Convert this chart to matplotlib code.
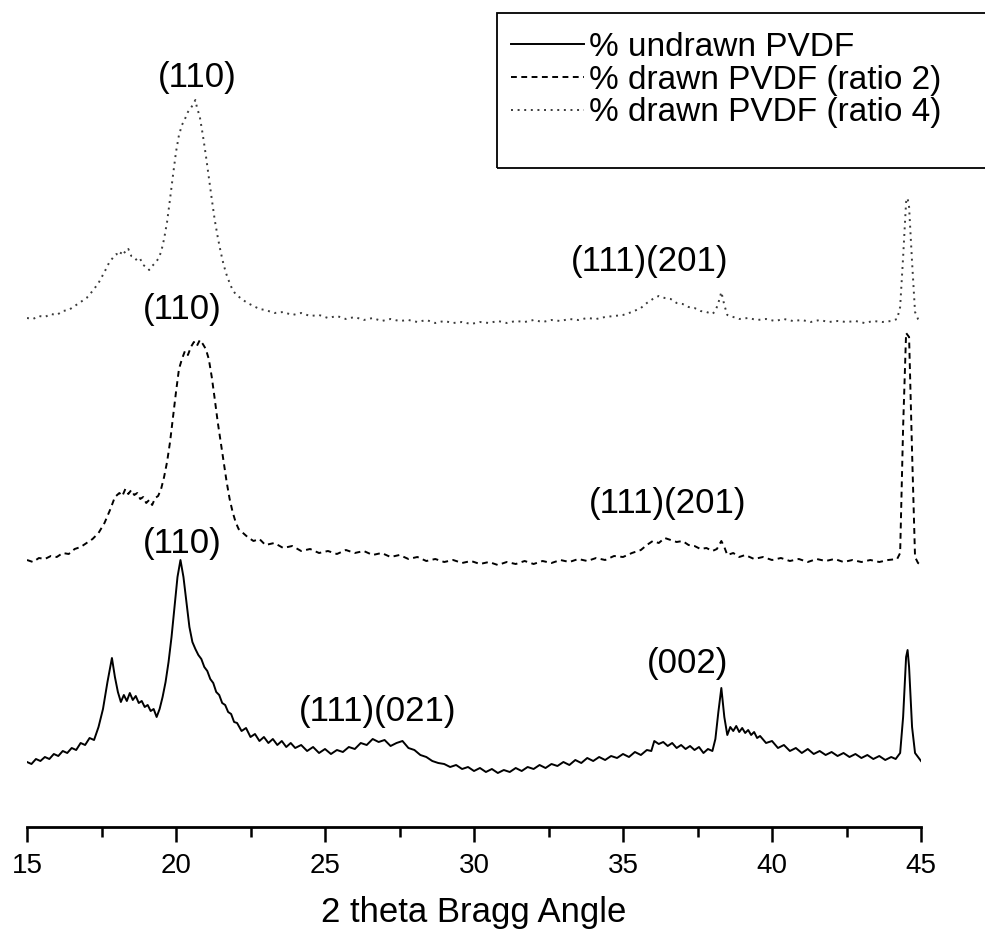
import matplotlib.pyplot as plt
from matplotlib.patches import Rectangle
from matplotlib.ticker import MultipleLocator

plt.rcParams["font.family"] = ["Liberation Sans", "DejaVu Sans"]

# (2 theta [deg], intensity [a.u.]), one trace per sample
undrawn = [
    (15.0, 65), (15.15, 63), (15.3, 68), (15.45, 66), (15.6, 70), (15.75, 68), (15.9, 73),
    (16.05, 71), (16.2, 76), (16.35, 74), (16.5, 79), (16.65, 77), (16.8, 84), (16.95, 82),
    (17.1, 89), (17.25, 87), (17.4, 100), (17.55, 118), (17.7, 145), (17.85, 169), (17.95, 150),
    (18.05, 135), (18.15, 125), (18.25, 132), (18.35, 126), (18.45, 134), (18.55, 127),
    (18.65, 131), (18.75, 124), (18.85, 126), (18.95, 120), (19.05, 122), (19.15, 116),
    (19.25, 118), (19.35, 110), (19.45, 118), (19.55, 130), (19.65, 145), (19.75, 165),
    (19.85, 190), (19.95, 220), (20.05, 250), (20.15, 267), (20.25, 250), (20.35, 225),
    (20.45, 200), (20.55, 185), (20.65, 178), (20.75, 172), (20.85, 168), (20.95, 160),
    (21.05, 156), (21.15, 148), (21.25, 144), (21.35, 135), (21.45, 132), (21.55, 124),
    (21.65, 122), (21.75, 115), (21.85, 113), (21.95, 105), (22.05, 104), (22.2, 96),
    (22.35, 99), (22.5, 90), (22.65, 93), (22.8, 86), (22.95, 90), (23.1, 84), (23.25, 88),
    (23.4, 82), (23.55, 86), (23.7, 80), (23.85, 84), (24.0, 79), (24.2, 82), (24.4, 76),
    (24.6, 80), (24.8, 74), (25.0, 78), (25.2, 73), (25.4, 77), (25.6, 75), (25.8, 80),
    (26.0, 78), (26.2, 84), (26.4, 82), (26.6, 88), (26.8, 85), (27.0, 87), (27.2, 81),
    (27.4, 84), (27.6, 86), (27.8, 79), (28.0, 77), (28.2, 72), (28.4, 70), (28.6, 66),
    (28.8, 64), (29.0, 63), (29.2, 60), (29.4, 62), (29.6, 58), (29.8, 60), (30.0, 56),
    (30.2, 59), (30.4, 55), (30.6, 58), (30.8, 54), (31.0, 57), (31.2, 55), (31.4, 59),
    (31.6, 56), (31.8, 60), (32.0, 58), (32.2, 62), (32.4, 59), (32.6, 63), (32.8, 61),
    (33.0, 65), (33.2, 62), (33.4, 67), (33.6, 64), (33.8, 69), (34.0, 66), (34.2, 70),
    (34.4, 67), (34.6, 71), (34.8, 69), (35.0, 73), (35.2, 70), (35.4, 75), (35.6, 72),
    (35.8, 77), (35.95, 76), (36.05, 86), (36.2, 83), (36.35, 85), (36.5, 81), (36.65, 84),
    (36.8, 79), (36.95, 82), (37.1, 78), (37.25, 81), (37.4, 77), (37.55, 80), (37.7, 74),
    (37.85, 78), (38.0, 76), (38.1, 88), (38.2, 115), (38.3, 139), (38.4, 110), (38.5, 92),
    (38.6, 100), (38.7, 96), (38.8, 101), (38.9, 95), (39.0, 99), (39.1, 94), (39.2, 97),
    (39.3, 92), (39.4, 95), (39.5, 89), (39.6, 91), (39.8, 84), (40.0, 86), (40.2, 79),
    (40.4, 82), (40.6, 76), (40.8, 79), (41.0, 74), (41.2, 78), (41.4, 73), (41.6, 76),
    (41.8, 72), (42.0, 75), (42.2, 71), (42.4, 74), (42.6, 70), (42.8, 73), (43.0, 69),
    (43.2, 72), (43.4, 68), (43.6, 71), (43.8, 67), (44.0, 70), (44.15, 68), (44.3, 74),
    (44.4, 110), (44.5, 170), (44.55, 177), (44.6, 160), (44.7, 100), (44.8, 74), (44.9, 70),
    (45.0, 66),
]

drawn_ratio2 = [
    (15.0, 67), (15.2, 65), (15.4, 69), (15.6, 68), (15.8, 71), (16.0, 70), (16.2, 74),
    (16.4, 73), (16.6, 78), (16.8, 80), (17.0, 84), (17.2, 88), (17.4, 94), (17.6, 104),
    (17.8, 118), (17.95, 130), (18.1, 134), (18.2, 131), (18.3, 138), (18.4, 133), (18.5, 137),
    (18.6, 132), (18.7, 134), (18.8, 128), (18.9, 130), (19.0, 124), (19.1, 127), (19.2, 122),
    (19.3, 129), (19.4, 131), (19.5, 138), (19.6, 150), (19.7, 165), (19.8, 185), (19.9, 210),
    (20.0, 235), (20.1, 258), (20.2, 268), (20.3, 276), (20.4, 272), (20.5, 280), (20.6, 285),
    (20.7, 281), (20.8, 287), (20.9, 283), (21.0, 278), (21.1, 268), (21.2, 250), (21.3, 228),
    (21.4, 205), (21.5, 185), (21.6, 165), (21.7, 145), (21.8, 128), (21.9, 115), (22.0, 105),
    (22.1, 98), (22.25, 94), (22.4, 90), (22.6, 86), (22.8, 88), (23.0, 82), (23.3, 84),
    (23.6, 79), (23.9, 81), (24.2, 76), (24.5, 78), (24.8, 74), (25.1, 76), (25.4, 73),
    (25.7, 77), (26.0, 74), (26.3, 76), (26.6, 72), (26.9, 74), (27.2, 70), (27.5, 72),
    (27.8, 68), (28.1, 70), (28.4, 66), (28.7, 68), (29.0, 65), (29.3, 67), (29.6, 64),
    (29.9, 66), (30.2, 63), (30.5, 65), (30.8, 62), (31.1, 65), (31.4, 63), (31.7, 66),
    (32.0, 63), (32.3, 66), (32.6, 64), (32.9, 67), (33.2, 65), (33.5, 68), (33.8, 66),
    (34.1, 69), (34.4, 67), (34.7, 71), (35.0, 70), (35.3, 74), (35.6, 77), (35.8, 82),
    (36.0, 86), (36.2, 84), (36.4, 89), (36.6, 87), (36.8, 85), (37.0, 86), (37.2, 82),
    (37.4, 81), (37.6, 78), (37.8, 79), (38.0, 76), (38.15, 78), (38.3, 86), (38.4, 80),
    (38.5, 72), (38.7, 74), (38.9, 70), (39.1, 72), (39.4, 68), (39.7, 70), (40.0, 67),
    (40.3, 69), (40.6, 66), (40.9, 68), (41.2, 65), (41.5, 68), (41.8, 66), (42.1, 68),
    (42.4, 65), (42.7, 67), (43.0, 65), (43.3, 67), (43.6, 65), (43.9, 67), (44.2, 68),
    (44.3, 74), (44.4, 200), (44.5, 294), (44.6, 290), (44.7, 175), (44.8, 70), (44.9, 64),
    (45.0, 62),
]

drawn_ratio4 = [
    (15.0, 69), (15.2, 68), (15.4, 71), (15.6, 70), (15.8, 73), (16.0, 72), (16.2, 76),
    (16.4, 77), (16.6, 81), (16.8, 85), (17.0, 89), (17.2, 96), (17.4, 104), (17.6, 115),
    (17.75, 124), (17.9, 130), (18.0, 133), (18.1, 131), (18.2, 137), (18.3, 134), (18.4, 138),
    (18.5, 131), (18.6, 130), (18.7, 126), (18.8, 128), (18.9, 122), (19.0, 120), (19.1, 117),
    (19.2, 121), (19.3, 124), (19.4, 128), (19.5, 135), (19.6, 148), (19.7, 165), (19.8, 188),
    (19.9, 212), (20.0, 235), (20.1, 252), (20.2, 262), (20.3, 268), (20.4, 275), (20.5, 279),
    (20.6, 284), (20.65, 287), (20.7, 280), (20.8, 270), (20.9, 252), (21.0, 232), (21.1, 210),
    (21.2, 188), (21.3, 167), (21.4, 150), (21.5, 135), (21.6, 122), (21.7, 112), (21.8, 104),
    (21.9, 97), (22.0, 93), (22.2, 88), (22.4, 84), (22.6, 81), (22.8, 78), (23.0, 77),
    (23.3, 74), (23.6, 75), (23.9, 72), (24.2, 74), (24.5, 71), (24.8, 72), (25.1, 69),
    (25.4, 71), (25.7, 68), (26.0, 70), (26.3, 67), (26.6, 69), (26.9, 66), (27.2, 68),
    (27.5, 66), (27.8, 67), (28.1, 65), (28.4, 67), (28.7, 64), (29.0, 66), (29.3, 64),
    (29.6, 65), (29.9, 63), (30.2, 65), (30.5, 64), (30.8, 66), (31.1, 64), (31.4, 66),
    (31.7, 65), (32.0, 67), (32.3, 65), (32.6, 67), (32.9, 66), (33.2, 68), (33.5, 67),
    (33.8, 69), (34.1, 68), (34.4, 70), (34.7, 71), (35.0, 72), (35.3, 75), (35.6, 79),
    (35.8, 84), (36.0, 88), (36.2, 91), (36.4, 89), (36.6, 88), (36.8, 84), (37.0, 83),
    (37.2, 80), (37.4, 79), (37.6, 76), (37.8, 75), (38.0, 73), (38.1, 76), (38.2, 84),
    (38.3, 95), (38.4, 82), (38.5, 72), (38.7, 70), (38.9, 68), (39.2, 69), (39.5, 67),
    (39.8, 68), (40.1, 66), (40.4, 68), (40.7, 66), (41.0, 67), (41.3, 65), (41.6, 67),
    (41.9, 65), (42.2, 66), (42.5, 65), (42.8, 66), (43.1, 64), (43.4, 66), (43.7, 65),
    (44.0, 66), (44.2, 68), (44.3, 80), (44.4, 130), (44.5, 185), (44.55, 189), (44.6, 180),
    (44.7, 125), (44.8, 75), (44.9, 68), (45.0, 65),
]

# vertical stacking of the traces
offset_undrawn = 0
offset_ratio2 = 200
offset_ratio4 = 440

series_labels = ["% undrawn PVDF", "% drawn PVDF (ratio 2)", "% drawn PVDF (ratio 4)"]

peak_labels = ["(110)", "(110)", "(110)", "(111)(201)", "(111)(201)", "(111)(021)", "(002)"]
peak_label_x = [20.7, 20.2, 20.2, 35.9, 36.5, 26.75, 37.15]
peak_label_y = [749, 517, 284, 565, 323, 115, 163]

fig = plt.figure(figsize=(9.85, 9.35), dpi=100)
ax = fig.add_axes([27 / 985, 108 / 935, 894 / 985, 827 / 935])

traces = [
    (undrawn, offset_undrawn, "black", "-"),
    (drawn_ratio2, offset_ratio2, "black", (0, (3, 2.3))),
    (drawn_ratio4, offset_ratio4, "#3a3a3a", (0, (1, 2.4))),
]
for (pts, off, col, ls), lab in zip(traces, series_labels):
    tt, ii = zip(*pts)
    ax.plot(tt, [v + off for v in ii], color=col, lw=1.4, ls=ls, label=lab)

for txt, px, py in zip(peak_labels, peak_label_x, peak_label_y):
    ax.text(px, py, txt, ha="center", va="center", fontsize=25)

ax.set_xlim(15, 45)
ax.set_ylim(0, 827)
ax.xaxis.set_major_locator(MultipleLocator(5))
ax.xaxis.set_minor_locator(MultipleLocator(2.5))
ax.tick_params(axis="x", which="major", direction="out", length=11, width=1.8,
               labelsize=20, pad=8)
ax.tick_params(axis="x", which="minor", direction="out", length=7, width=1.8)
ax.set_yticks([])
for side in ["left", "right", "top"]:
    ax.spines[side].set_visible(False)
ax.spines["bottom"].set_linewidth(2)
ax.set_xlabel("2 theta Bragg Angle", fontsize=25, labelpad=12)
ax.patch.set_alpha(0)

# legend box runs off the right edge of the figure
fig.patches.append(Rectangle((497 / 985, 1 - 168 / 935), 0.6, 155 / 935,
                             transform=fig.transFigure, fill=False,
                             edgecolor="black", linewidth=1.3))
leg = ax.legend(loc="upper left", bbox_to_anchor=(511 / 985, 1 - 32 / 935),
                bbox_transform=fig.transFigure, fontsize=24, frameon=False,
                handlelength=2.2, handletextpad=0.15, labelspacing=0.05,
                borderpad=0, borderaxespad=0)

fig.savefig("out.png", dpi=100)
